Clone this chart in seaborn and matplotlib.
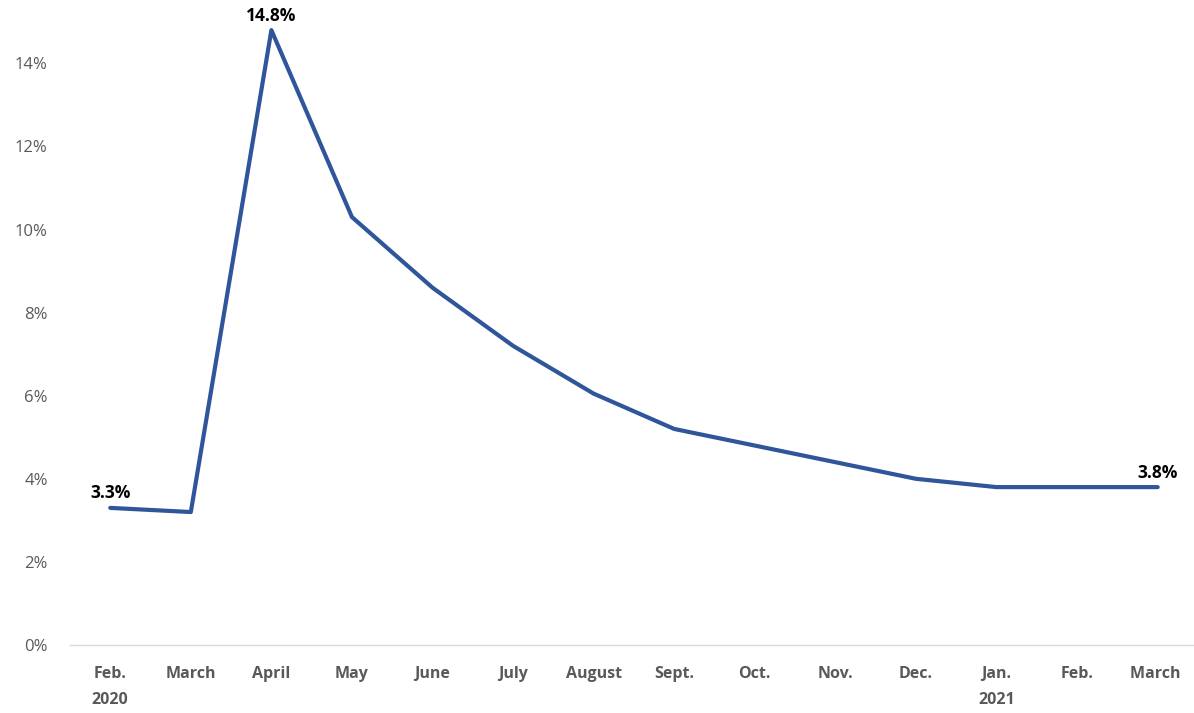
import matplotlib
matplotlib.use("Agg")
import matplotlib.pyplot as plt
import seaborn as sns
import pandas as pd
from matplotlib.ticker import PercentFormatter

months = ["Feb.\n2020", "March", "April", "May", "June", "July", "August",
          "Sept.", "Oct.", "Nov.", "Dec.", "Jan.\n2021", "Feb.", "March "]
rate = [3.3, 3.2, 14.8, 10.3, 8.6, 7.2, 6.05, 5.2, 4.8, 4.4, 4.0, 3.8, 3.8, 3.8]
labelled = {0: "3.3%", 2: "14.8%", 13: "3.8%"}

df = pd.DataFrame({"month": range(len(months)), "rate": rate})

sns.set_style("white")
plt.rcParams['font.family'] = ['Open Sans', 'DejaVu Sans']

fig = plt.figure(figsize=(11.94, 7.13), dpi=100)
ax = fig.add_axes([0.0586, 0.0954, 0.9447, 0.874])

sns.lineplot(data=df, x="month", y="rate", ax=ax, color="#2F559A", linewidth=3)

for i, txt in labelled.items():
    ax.annotate(txt, (i, rate[i]), xytext=(0, 4), textcoords="offset points",
                ha="center", va="bottom", fontsize=12.5, fontweight="bold", color="black")

ax.set_xlim(-0.5, len(months) - 0.5)
ax.set_ylim(0, 15)
ax.set_yticks(range(0, 15, 2))
ax.yaxis.set_major_formatter(PercentFormatter(decimals=0))
ax.set_xticks(range(len(months)))
ax.set_xticklabels(months, fontweight="bold", color="#595959", fontsize=11.5)
ax.tick_params(axis="y", labelcolor="#595959", labelsize=12, length=0, pad=16)
ax.tick_params(axis="x", length=0, pad=15)
for lab in ax.get_xticklabels():
    lab.set_linespacing(1.85)

ax.set_xlabel("")
ax.set_ylabel("")
for s in ["top", "right", "left"]:
    ax.spines[s].set_visible(False)
ax.spines["bottom"].set_color("#D9D9D9")
ax.spines["bottom"].set_linewidth(1)

fig.savefig("out.png", dpi=100)
